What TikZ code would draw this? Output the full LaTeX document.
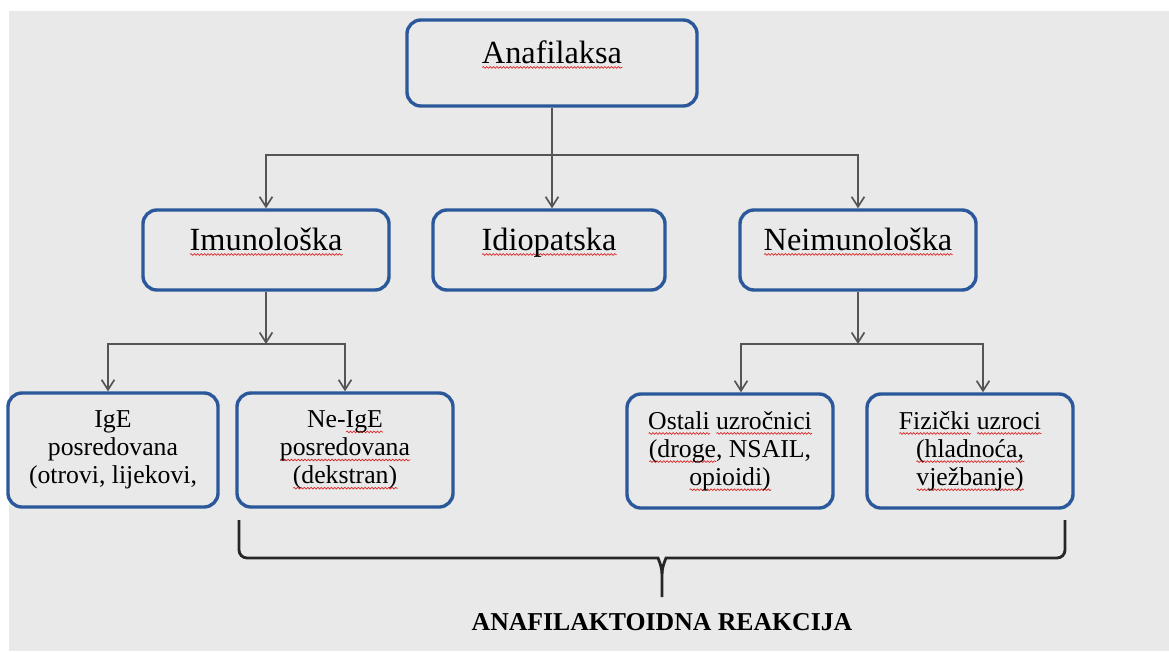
\documentclass[tikz,border=0pt]{standalone}
\usepackage{fontspec}
\setmainfont{Liberation Serif}
\usetikzlibrary{arrows.meta,calc,decorations.pathmorphing}
\definecolor{boxblue}{RGB}{42,88,155}
\definecolor{bggray}{RGB}{233,233,233}
\definecolor{linegray}{RGB}{85,85,85}
\definecolor{spell}{RGB}{220,40,40}
% red spell-check underline
\newsavebox\wavybox
\newlength\wavylen
\newcommand\wavy[1]{\sbox\wavybox{#1}\setlength\wavylen{\wd\wavybox}\leavevmode
  \rlap{\raisebox{-4pt}{\tikz[x=1pt,y=1pt,sharp corners]\draw[spell,line width=0.5pt,sharp corners,decorate,decoration={snake,amplitude=0.6pt,segment length=2.4pt}] (0,0) -- (\wavylen,0);}}\usebox\wavybox}

\begin{document}
\begin{tikzpicture}[
      x=0.025cm, y=-0.025cm,
      box/.style={draw=boxblue, line width=2.4pt, rounded corners=0.35cm},
      top/.style={box, font=\fontsize{23}{27}\selectfont, text height=1cm, text depth=1cm, inner ysep=0pt, minimum height=2cm},
      low/.style={box, align=center, font=\fontsize{18.3}{20}\selectfont, minimum height=2.85cm, minimum width=5.15cm},
      conn/.style={draw=linegray, line width=1.2pt},
      arr/.style={conn, -{Straight Barb[length=2.5mm,width=3.2mm]}},
      bracket/.style={draw=black!85, line width=2pt}
    ]
    \fill[white] (0,0) rectangle (1169,651);
    \fill[bggray] (9,11) rectangle (1169,651);
    \useasboundingbox (0,0) rectangle (1169,651);

    \node (ana) [top, text height=1.075cm, text depth=1.075cm, minimum height=2.15cm, minimum width=7.25cm] at (552,63) {\wavy{Anafilaksa}};

    \node (imu) [top, minimum width=6.15cm] at (266,250) {\wavy{Imunološka}};
    \node (idi) [top, minimum width=5.8cm] at (549,250) {\wavy{Idiopatska}};
    \node (nei) [top, minimum width=5.9cm] at (858,250) {\wavy{Neimunološka}};

    \node (ige) [low, minimum width=5.25cm] at (113,450) {IgE\\posredovana\\(otrovi, lijekovi,};
    \node (neige) [low, minimum width=5.4cm] at (345,450) {Ne-\wavy{IgE}\\\wavy{posredovana}\\\wavy{(dekstran)}};
    \node (ost) [low] at (730,451) {\wavy{Ostali} \wavy{uzročnici}\\\wavy{(droge}, NSAIL,\\\wavy{opioidi)}};
    \node (fiz) [low] at (970,451) {\wavy{Fizički} \wavy{uzroci}\\\wavy{(hladnoća,}\\\wavy{vježbanje)}};

    \coordinate (j1) at (552,155);
    \coordinate (j2) at (266,344);
    \coordinate (j3) at (858,344);

    \draw[conn] (ana) -- (j1);
    \draw[arr] (j1) -| (imu.north);
    \draw[arr] (j1) -- (j1 |- idi.north);
    \draw[arr] (j1) -| (nei.north);

    \draw[arr] (imu) -- (j2);
    \draw[arr] (j2) -| ($(ige.north)+(-5,0)$);
    \draw[arr] (j2) -| (neige.north);

    \draw[arr] (nei) -- (j3);
    \draw[arr] (j3) -| ($(ost.north)+(11,0)$);
    \draw[arr] (j3) -| ($(fiz.north)+(13,0)$);

    % brace under the lower row
    \coordinate (bl) at (239,520);
    \coordinate (br) at (1065,520);
    \coordinate (tip) at (662,597);
    \draw[bracket, rounded corners=0.2cm] (bl) |- (650,558) [sharp corners] to[out=0,in=90] (662,574) -- (tip);
    \draw[bracket, rounded corners=0.2cm] (br) |- (674,558) [sharp corners] to[out=180,in=90] (662,574);

    \node (cap) [font=\fontsize{18.3}{20}\selectfont\bfseries] at (662,622) {ANAFILAKTOIDNA REAKCIJA};

\end{tikzpicture}
\end{document}
